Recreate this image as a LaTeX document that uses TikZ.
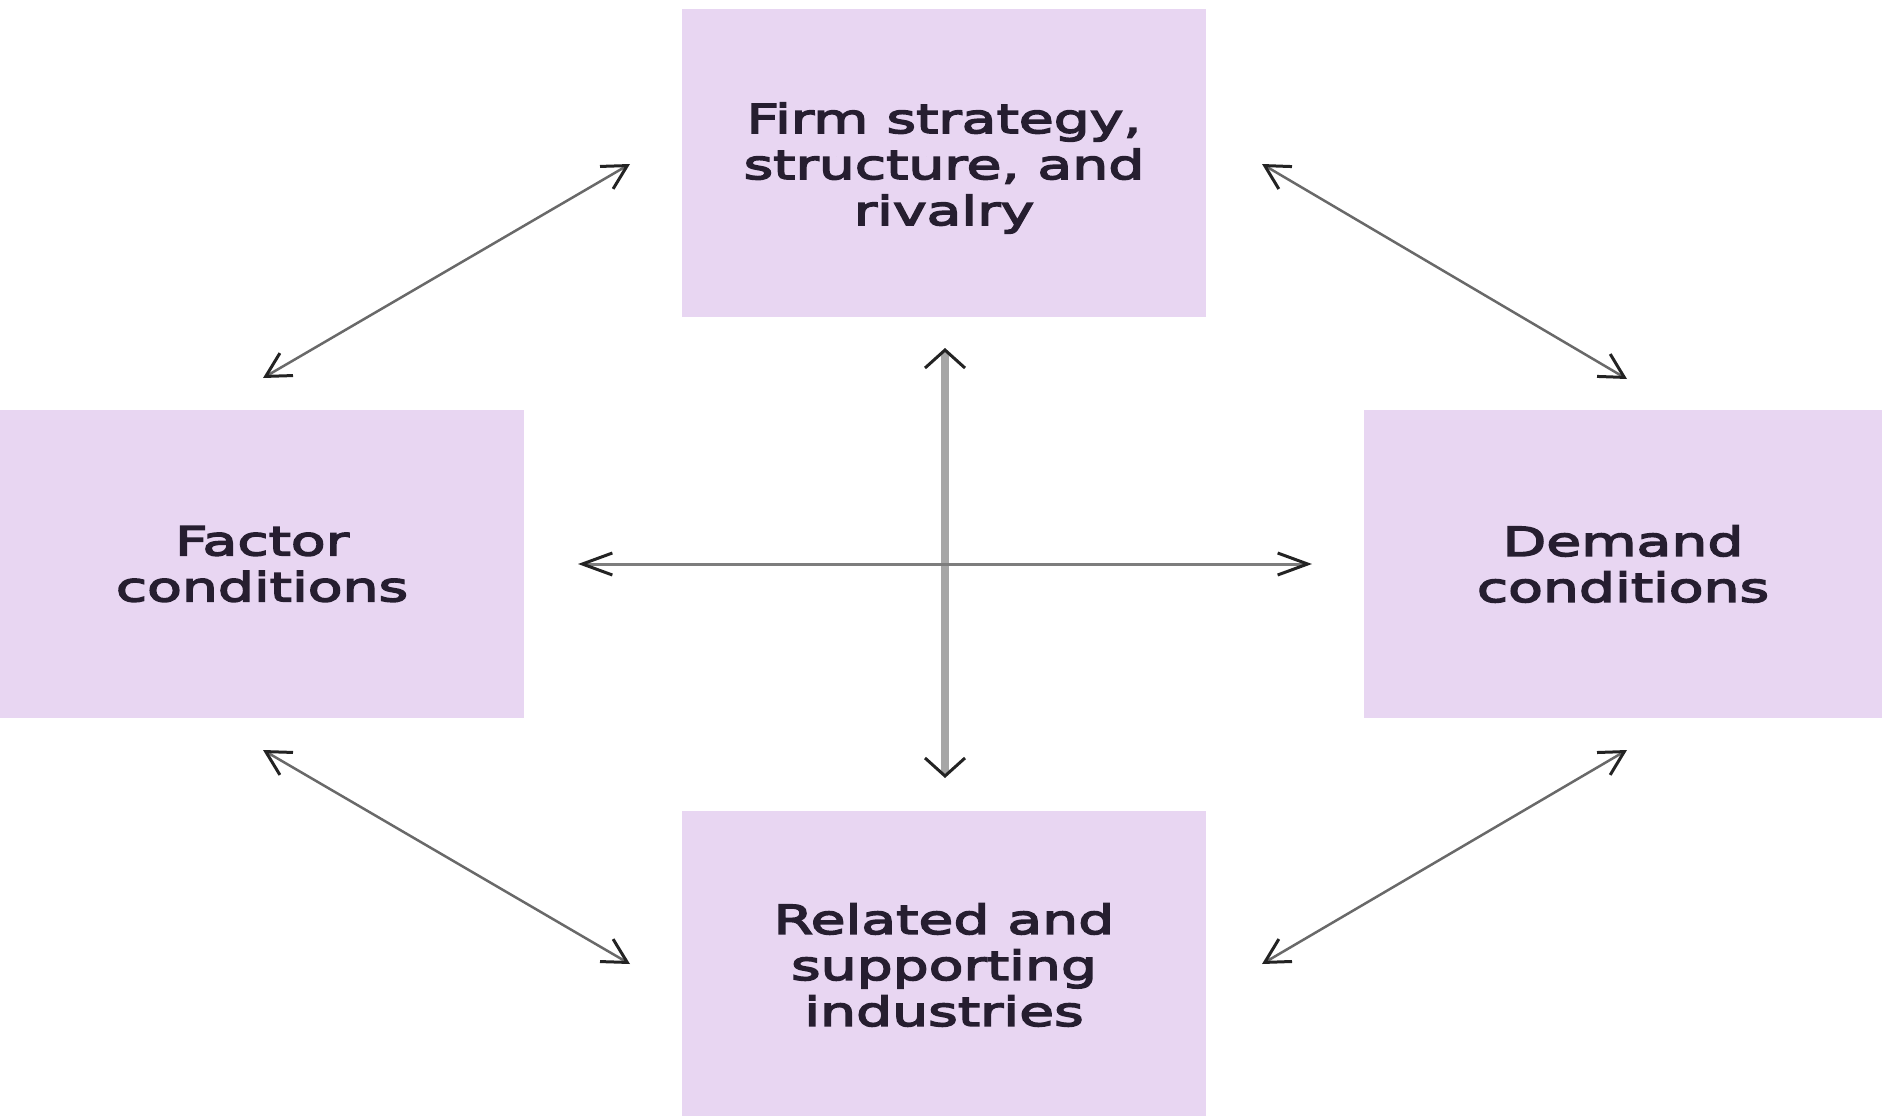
\documentclass[tikz,border=0pt]{standalone}
\usepackage{fontspec}
\setmainfont[FakeStretch=1.42,FakeBold=4]{DejaVu Sans}
\usetikzlibrary{arrows.meta}
\definecolor{boxfill}{RGB}{232,214,242}
\definecolor{txt}{RGB}{38,30,48}
\definecolor{shaft}{RGB}{105,105,105}
\definecolor{hshaft}{RGB}{125,125,125}
\definecolor{vshaft}{RGB}{166,166,166}
\definecolor{tipc}{RGB}{35,35,35}
\begin{document}
\begin{tikzpicture}[x=1pt,y=-1pt,
  boxtext/.style={text=txt, font=\fontsize{40}{46}\selectfont, align=center},
  box/.style={fill=boxfill, draw=none, minimum height=308pt, inner sep=0pt, boxtext},
  dtip/.tip={Straight Barb[length=24pt,width=26pt,line width=3pt,color=tipc]},
  htip/.tip={Straight Barb[length=30pt,width=22pt,line width=3pt,color=tipc]},
  vtip/.tip={Straight Barb[length=18pt,width=40pt,line width=3pt,color=tipc]},
  diag/.style={draw=shaft, line width=2.5pt, dtip-dtip},
  horiz/.style={draw=hshaft, line width=3pt, htip-htip},
  vert/.style={draw=vshaft, line width=8pt, vtip-vtip}]
\useasboundingbox (0,0) rectangle (1882,1116);
\node[box, minimum width=524pt,
  label={[boxtext, yshift=-5pt]center:{Firm strategy,\\structure, and\\rivalry}}] (firm) at (944,163) {};
\node[box, minimum width=524pt] (factor) at (262,564) {Factor\\conditions};
\node[box, minimum width=518pt] (demand) at (1623,564) {Demand\\conditions};
\node[box, minimum width=524pt] (related) at (944,965) {Related and\\supporting\\industries};
\coordinate (d1a) at (263,378);
\coordinate (d1b) at (630,164);
\coordinate (d2a) at (1262,164);
\coordinate (d2b) at (1627,379);
\coordinate (d3a) at (263,750);
\coordinate (d3b) at (630,964);
\coordinate (d4a) at (1627,750);
\coordinate (d4b) at (1262,964);
\coordinate (ha) at (578,564);
\coordinate (hb) at (1312,564);
\coordinate (va) at (945,348);
\coordinate (vb) at (945,778);
\draw[diag] (d1a) -- (d1b);
\draw[diag] (d2a) -- (d2b);
\draw[diag] (d3a) -- (d3b);
\draw[diag] (d4a) -- (d4b);
\draw[vert] (va) -- (vb);
\draw[horiz] (ha) -- (hb);
\end{tikzpicture}
\end{document}
